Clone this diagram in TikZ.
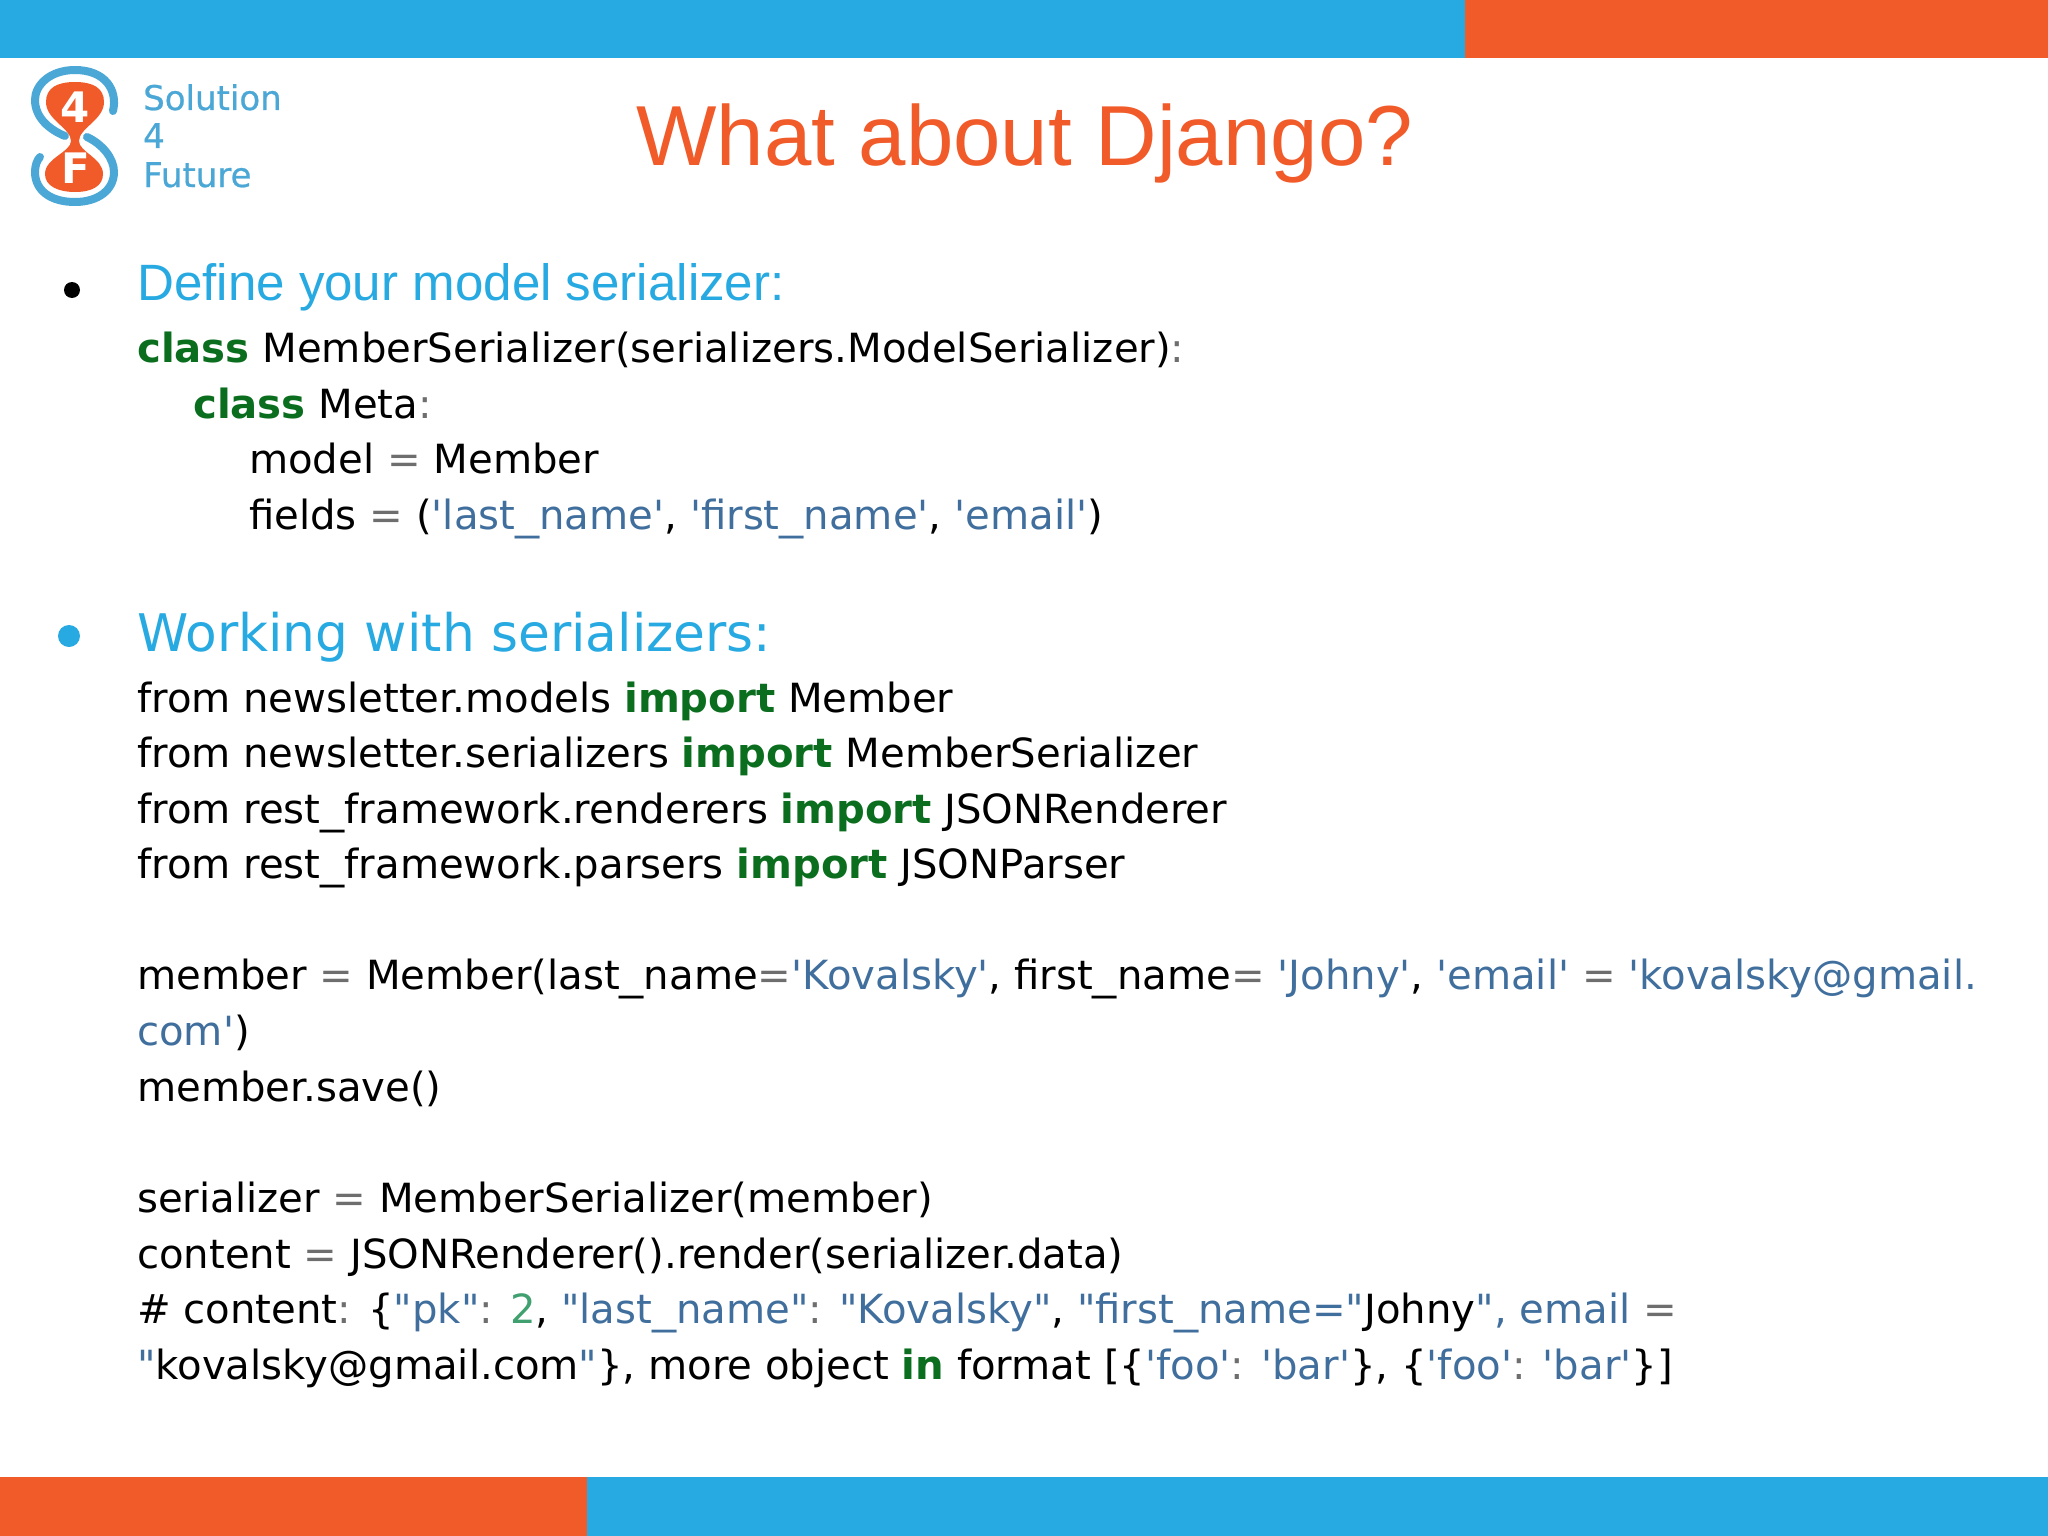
\documentclass[tikz,border=0pt]{standalone}
\usepackage{xcolor}
\usepackage{fontspec}
\usepackage{tikz}
\setmainfont{Liberation Sans}
\newfontfamily\codefont{DejaVu Sans}
\newfontfamily\logofont[FakeBold=0.7]{DejaVu Sans}
\definecolor{barblue}{HTML}{27A9E1}
\definecolor{barorange}{HTML}{F15A29}
\definecolor{logoblue}{HTML}{4BA7D6}
\definecolor{strblue}{HTML}{406F9E}
\definecolor{kwgreen}{HTML}{0B6E1F}
\definecolor{numgreen}{HTML}{40A070}
\definecolor{opgray}{HTML}{6E6E6E}
\newcommand{\kwd}[1]{\textcolor{kwgreen}{\textbf{#1}}}
\newcommand{\strg}[1]{\textcolor{strblue}{#1}}
\newcommand{\opr}[1]{\textcolor{opgray}{#1}}
\newcommand{\us}{\scalebox{1.2}[1]{\_}}
\tikzset{
	codeline/.style={anchor=base west,inner sep=0pt,font=\codefont\fontsize{40.2}{46}\selectfont},
	logotext/.style={anchor=base west,inner sep=0pt,text=logoblue,font=\logofont\fontsize{34}{40}\selectfont},
	logostroke/.style={logoblue,line width=8pt,line cap=round},
	logomark/.style={text=white,inner sep=0pt,font=\codefont\bfseries\fontsize{42}{50}\selectfont}
}
\begin{document}
\begin{tikzpicture}[x=1pt,y=-1pt]
	\useasboundingbox (0,0) rectangle (2048,1536);
	\fill[white] (0,0) rectangle (2048,1536);
	% bars
	\fill[barblue] (0,0) rectangle (1465,58);
	\fill[barorange] (1465,0) rectangle (2048,58);
	\fill[barorange] (0,1477) rectangle (587,1536);
	\fill[barblue] (587,1477) rectangle (2048,1536);
	% logo
	\fill[barorange] (75,82) .. controls (93,82) and (104,88) .. (104,102) .. controls (104,120) and (79,128) .. (79,141) .. controls (79,152) and (103,158) .. (103,174) .. controls (103,186) and (92,192) .. (75,192) .. controls (58,192) and (45,186) .. (45,174) .. controls (45,158) and (71,152) .. (71,141) .. controls (71,128) and (46,120) .. (46,102) .. controls (46,88) and (57,82) .. (75,82) -- cycle;
	\draw[logostroke] (113,111) .. controls (118,90) and (105,70) .. (75,70) .. controls (50,70) and (35,85) .. (35,100) .. controls (35,118) and (50,130) .. (65,136);
	\draw[logostroke] (87,137) .. controls (102,144) and (114,158) .. (114,172) .. controls (114,190) and (98,202) .. (75,202) .. controls (50,202) and (35,190) .. (35,172) .. controls (35,166) and (37,160) .. (40,157);
	\node[logomark] (four) at (75,107) {4};
	\node[logomark] (eff) at (76,168) {F};
	\node[logotext] (logoa) at (143,110) {Solution};
	\node[logotext] (logob) at (143,148) {4};
	\node[logotext] (logoc) at (143,187) {Future};
	% title
	\node[anchor=base west,inner sep=0pt,text=barorange,font=\fontsize{85.2}{96}\selectfont] (title) at (636,165) {What about Django?};
	% first item
	\fill[black] (72,290) circle (8);
	\node[anchor=base west,inner sep=0pt,text=barblue,font=\fontsize{51.1}{60}\selectfont] (define) at (137,300) {Define your model serializer:};
	\node[codeline] (cla) at (137,362) {\kwd{class} MemberSerializer(serializers.ModelSerializer)\opr{:}};
	\node[codeline] (clb) at (193,418) {\kwd{class} Meta\opr{:}};
	\node[codeline] (clc) at (249,473) {model \opr{=} Member};
	\node[codeline] (cld) at (249,529) {fields \opr{=} (\strg{'last\us name'}, \strg{'first\us name'}, \strg{'email'})};
	% second item
	\fill[barblue] (69,636) circle (11);
	\node[anchor=base west,inner sep=0pt,text=barblue,font=\codefont\fontsize{51.8}{60}\selectfont] (working) at (137,651) {Working with serializers:};
	\node[codeline] (ima) at (137,712) {from newsletter.models \kwd{import} Member};
	\node[codeline] (imb) at (137,767) {from newsletter.serializers \kwd{import} MemberSerializer};
	\node[codeline] (imc) at (137,823) {from rest\us framework.renderers \kwd{import} JSONRenderer};
	\node[codeline] (imd) at (137,878) {from rest\us framework.parsers \kwd{import} JSONParser};
	\node[codeline] (mema) at (137,989) {member \opr{=} Member(last\us name\opr{=}\strg{'Kovalsky'}, first\us name\opr{=} \strg{'Johny'}, \strg{'email'} \opr{=} \strg{'kovalsky@gmail.}};
	\node[codeline] (memb) at (137,1045) {\strg{com'})};
	\node[codeline] (memc) at (137,1101) {member.save()};
	\node[codeline] (sera) at (137,1212) {serializer \opr{=} MemberSerializer(member)};
	\node[codeline] (serb) at (137,1268) {content \opr{=} JSONRenderer().render(serializer.data)};
	\node[codeline] (serc) at (137,1323) {\# content\opr{:} \{\strg{"pk"}\opr{:} \textcolor{numgreen}{2}, \strg{"last\us name"}\opr{:} \strg{"Kovalsky"}, \strg{"first\us name="}Johny\strg{", email} \opr{=}};
	\node[codeline] (serd) at (137,1379) {\strg{"}kovalsky@gmail.com\strg{"}\}, more object \kwd{in} format [\{\strg{'foo'}\opr{:} \strg{'bar'}\}, \{\strg{'foo'}\opr{:} \strg{'bar'}\}]};
\end{tikzpicture}
\end{document}
